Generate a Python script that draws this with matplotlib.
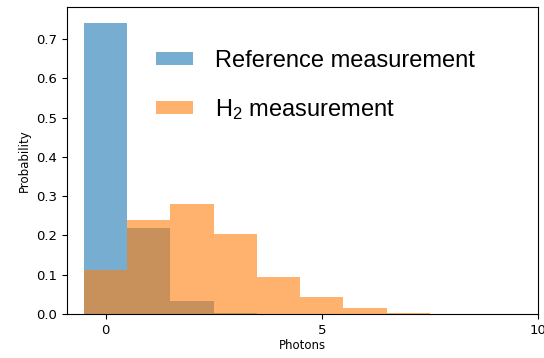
import numpy as np
import matplotlib
matplotlib.use("Agg")
import matplotlib.pyplot as plt
from matplotlib import rcParams

rcParams.update({
    "mathtext.fontset": "custom",
    "mathtext.rm": "Liberation Sans",
    "mathtext.it": "Liberation Sans:italic",
})

# photon-number bins and probabilities
photons = [0, 1, 2, 3, 4, 5, 6, 7]
p_reference = [0.74, 0.22, 0.033, 0.002, 0.0, 0.0, 0.0, 0.0]
p_h2 = [0.112, 0.239, 0.28, 0.203, 0.095, 0.042, 0.015, 0.002]

fig = plt.figure(figsize=(5.44, 3.58), dpi=100)
ax = fig.add_axes([0.1226, 0.123, 0.8664, 0.857])

ax.bar(photons, p_reference, width=1.0, color="tab:blue", alpha=0.6,
       linewidth=0, label="Reference measurement")
ax.bar(photons, p_h2, width=1.0, color="tab:orange", alpha=0.6,
       linewidth=0, label="H$_2$ measurement")

ax.set_xlim(-0.9, 10)
ax.set_ylim(0, 0.781)
ax.set_xticks([0, 5, 10])
ax.set_yticks(np.arange(0, 0.71, 0.1))
ax.tick_params(labelsize=9.5)
ax.set_xlabel("Photons", fontsize=8.5, labelpad=2)
ax.set_ylabel("Probability", fontsize=8.5)

ax.legend(frameon=False, loc="upper left", bbox_to_anchor=(0.19, 0.86),
          borderaxespad=0, borderpad=0,
          prop={"family": "Liberation Sans", "size": 17},
          handlelength=1.55, handleheight=0.45, handletextpad=0.95,
          labelspacing=1.05)

fig.savefig("out.png", dpi=100)
